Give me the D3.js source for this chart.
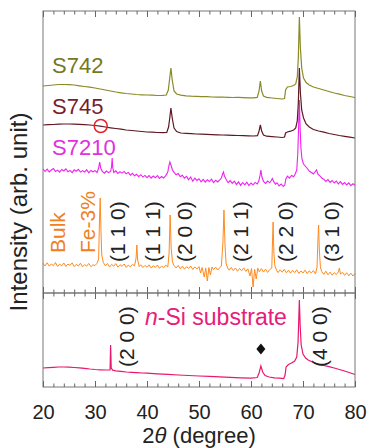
<!DOCTYPE html>
<html>
<head>
<meta charset="utf-8">
<script src="https://cdn.jsdelivr.net/npm/d3@7"></script>
<style>
  body { margin: 0; background: #fff; }
  svg { display: block; }
  text { font-family: Arial, "Liberation Sans", sans-serif; }
</style>
</head>
<body>
<div id="chart"></div>
<script>
const width = 367, height = 448;

// 2theta (degree) vs intensity (arb. unit), offsets included
const s742 = [[20,207],[21,207.5],[22,208],[23,208.5],[24,208.5],[25,208.3],[26,208],[27,207.2],[28,206.5],[29,205.8],[30,205],[31,204],[32,203],[33,202],[34,201],[35,200.2],[36,199.5],[37,199],[38,198.5],[39,198.2],[40,198],[41,197.8],[42,197.5],[43,197.6],[43.7,198],[44.1,203],[44.35,214],[44.6,225],[44.85,213],[45.2,202],[45.7,199],[46.5,197.8],[47.5,197.2],[48.5,196.8],[49.5,196.6],[50.5,196.4],[51.5,196.3],[52.5,196],[53.5,195.9],[54.5,196],[55.5,195.7],[56.5,195.5],[57.5,195.6],[58.5,195.4],[59.5,195.2],[60.5,195.1],[61.2,195.6],[61.55,202],[61.8,212],[62.05,202],[62.4,197],[63,195.6],[64,195],[65,194.5],[66,194],[66.45,194.5],[66.65,203],[67,206],[67.6,206.5],[68.2,207.5],[68.6,209],[68.9,216],[69.1,235],[69.3,276],[69.5,245],[69.75,225],[70.1,215],[70.6,210.5],[71.2,208],[72,206],[73,204.5],[74,203],[75,201.5],[76,200],[77,198.8],[78,197.5],[79,196.5],[80,195.5]];

const s745 = [[20,168],[21,168.3],[22,168.5],[23,168.8],[24,169],[25,169],[26,168.9],[27,168.6],[28,168.4],[29,168],[30,167.5],[31,166.8],[32,166],[33,165.2],[34,164.5],[35,163.8],[36,163],[37,162.5],[38,162],[39,161.5],[40,161],[41,160.8],[42,160.5],[43,160.4],[43.8,160.6],[44.15,166],[44.4,176],[44.6,185],[44.85,175],[45.2,165],[45.7,161.5],[46.5,160],[47.5,159.6],[48.5,159.3],[49.5,159],[50.5,158.8],[51.5,158.6],[52.5,158.4],[53.5,158.2],[54.5,158],[55.5,157.8],[56.5,157.7],[57.5,157.5],[58.5,157.3],[59.5,157.1],[60.5,157],[61.25,157.3],[61.55,162],[61.8,168],[62.05,162],[62.4,158],[63,156.8],[64,156.4],[65,156],[66,155.5],[66.45,156],[66.65,160],[67,161],[67.6,161.8],[68.2,163],[68.6,165],[68.9,172],[69.1,190],[69.3,225],[69.5,200],[69.75,183],[70.1,175],[70.6,169],[71.2,166],[72,163.5],[73,162],[74,160.8],[75,159.5],[76,158.5],[77,157.5],[78,156.7],[79,155.8],[80,155]];

const s7210 = [[20,124],[20.4,121.5],[20.8,123.8],[21.2,121],[21.6,123],[22,124.5],[22.4,121.6],[22.8,122.9],[23.2,120.8],[23.6,123.5],[24,122],[24.4,124.2],[24.8,121.3],[25.2,122.6],[25.6,120.4],[26,123.2],[26.4,121.8],[26.8,123.6],[27.2,120.9],[27.6,122.4],[28,121],[28.4,123.3],[28.8,120.2],[29.2,122.5],[29.6,121.2],[30,122.4],[30.4,120.5],[30.7,125],[30.9,131],[31.1,125],[31.4,121.5],[31.8,119.8],[32.2,122],[32.6,120.4],[33,121.5],[33.2,127],[33.3,135],[33.4,126],[33.6,120.6],[34,122.2],[34.4,119.6],[34.8,121.4],[35.2,119.9],[35.6,121.6],[36,119.2],[36.4,120.6],[36.8,117.8],[37.2,119.6],[37.6,117.2],[38,118.8],[38.4,116.4],[38.8,118.3],[39.2,115.9],[39.6,117.6],[40,115.4],[40.4,117.5],[40.8,114.8],[41.2,116.9],[41.6,115.2],[42,117.3],[42.4,114.6],[42.8,116.5],[43.2,115],[43.6,117.4],[44,121],[44.2,127],[44.4,131],[44.6,128],[44.9,123],[45.2,120.6],[45.6,118.2],[46,119.4],[46.4,116.3],[46.8,117.8],[47.2,114.9],[47.6,116.6],[48,113.2],[48.4,116],[48.8,111.8],[49.2,114.9],[49.6,112.6],[50,114.3],[50.4,111.2],[50.8,113.6],[51.2,110.8],[51.6,113.2],[52,111.5],[52.4,113.8],[52.8,110.4],[53.2,112.7],[53.6,111],[54,113.2],[54.3,115],[54.55,119],[54.7,121],[54.9,117],[55.2,113.8],[55.6,110.3],[56,112.4],[56.4,109.6],[56.8,111.8],[57.2,108.4],[57.6,111.2],[58,107.6],[58.4,110.5],[58.8,108.2],[59.2,110.8],[59.6,107.4],[60,110],[60.4,108.2],[60.8,110.6],[61.2,109],[61.5,112],[61.75,118],[61.9,123],[62.1,116],[62.4,111.5],[62.8,109.6],[63.2,112],[63.6,110.2],[63.9,112.5],[64.1,114.5],[64.35,111.6],[64.7,108.8],[65,110.2],[65.4,107],[65.8,109],[66.2,106.5],[66.5,108],[66.7,114],[67,116.8],[67.4,114.9],[67.8,117.5],[68.2,116.2],[68.5,119],[68.8,123],[69,140],[69.15,165],[69.3,193],[69.45,165],[69.6,145],[69.8,134],[70.1,129],[70.5,126.5],[70.9,124],[71.3,121.5],[71.7,120.2],[72,119],[72.3,121],[72.6,123],[72.9,118.6],[73.2,117.4],[73.6,115],[74,113.8],[74.4,111.6],[74.8,113.4],[75.2,110.6],[75.6,112.5],[76,110],[76.4,112],[76.8,109.2],[77.2,111.3],[77.6,108.6],[78,110.4],[78.4,108],[78.8,110.1],[79.2,107.4],[79.6,109.2],[80,107.8]];

const bulkFe = [[20,29.5],[20.4,27],[20.8,30.2],[21.2,26.8],[21.6,29],[22,27.4],[22.4,30.5],[22.8,26.5],[23.2,28.8],[23.6,27.2],[24,30],[24.4,26.6],[24.8,28.9],[25.2,27.6],[25.6,30.1],[26,26.4],[26.4,28.6],[26.8,27],[27.2,29.8],[27.6,26.2],[28,28.4],[28.4,26.9],[28.8,29.6],[29.2,26.3],[29.6,28.2],[30,27.5],[30.4,29.8],[30.7,34],[30.85,70],[31,95],[31.15,62],[31.3,38],[31.6,30.5],[32,27.2],[32.4,29.5],[32.8,26],[33.2,28.6],[33.6,26.8],[34,29.4],[34.4,25.9],[34.8,28.3],[35.2,26.6],[35.6,29],[36,25.6],[36.4,27.9],[36.8,26.2],[37.2,28.7],[37.6,27],[37.9,35],[38.05,48],[38.2,33],[38.5,26.4],[38.8,28.2],[39.2,25.4],[39.6,27.6],[40,25.8],[40.4,28.1],[40.8,24.9],[41.2,27.3],[41.6,25.5],[42,28],[42.4,24.6],[42.8,26.9],[43.2,25.3],[43.6,27.8],[44,26],[44.25,40],[44.45,78],[44.65,45],[44.9,31],[45.2,27.4],[45.6,25],[46,27.6],[46.4,24.2],[46.8,26.8],[47.2,23.8],[47.6,26.3],[48,24.6],[48.4,27],[48.8,23.5],[49.2,26.1],[49.6,24],[50,26.4],[50.3,20],[50.6,25.5],[51,16],[51.3,24.8],[51.6,12],[51.9,25.4],[52.2,18],[52.5,26],[52.8,23.4],[53.2,25.9],[53.6,23],[54,25.4],[54.3,27],[54.6,50],[54.8,83],[55,48],[55.2,30],[55.5,25],[55.8,22.8],[56.2,25.6],[56.6,22.4],[57,25],[57.4,21.8],[57.8,24.6],[58.2,22.2],[58.6,25.1],[59,21.6],[59.4,24.2],[59.8,17],[60.1,24.5],[60.4,6],[60.7,23.6],[61,14],[61.3,24.8],[61.6,21.2],[62,24.4],[62.4,21],[62.8,23.8],[63.2,20.6],[63.6,23.4],[64,25],[64.1,45],[64.25,71],[64.4,40],[64.6,27],[64.9,23],[65.2,20.4],[65.6,23.2],[66,20.8],[66.4,23.7],[66.8,20.2],[67.2,22.8],[67.6,19.8],[68,22.6],[68.4,20.4],[68.8,23.2],[69.2,19.6],[69.6,22.1],[70,20],[70.4,22.9],[70.8,19.4],[71.2,22.2],[71.6,19.9],[72,22.5],[72.4,19.2],[72.7,26],[72.85,50],[73,68],[73.15,42],[73.35,26],[73.6,21.5],[74,18.6],[74.4,21.8],[74.8,18.2],[75.2,20.9],[75.6,17.8],[76,20.4],[76.4,18.4],[76.8,21.2],[77,25],[77.2,19],[77.6,20.6],[78,17.6],[78.4,20.2],[78.8,17.2],[79.2,19.8],[79.6,17],[80,19.5]];

const nSi = [[20,19],[21,19.3],[22,19.6],[23,20],[24,20],[25,19.8],[26,19.5],[27,19.2],[28,18.7],[29,18],[30,17.5],[31,17.2],[32,17],[32.9,17],[33,42],[33.12,19],[33.4,16.8],[34,16.2],[35,15.6],[36,15],[37,14.6],[38,14.3],[39,14],[40,13.8],[42,13.2],[44,12.6],[46,12],[48,11.5],[50,11],[52,10.6],[54,10.1],[56,9.7],[58,9.2],[60,8.8],[61.2,9.5],[61.55,14],[61.9,21],[62.25,15],[62.7,11.5],[63.5,10],[64.5,9.2],[65.5,8.8],[66.3,8.5],[66.55,12],[66.75,20],[67.2,22.5],[67.8,24],[68.4,26],[68.8,30],[69.05,45],[69.2,70],[69.3,87],[69.45,62],[69.65,42],[70,33],[70.5,29],[71,27],[72,24.5],[73,23],[74,21.5],[75,20.3],[76,19],[77,17.5],[78,16],[79,14.3],[80,12.5]];

const xTicks = [20, 30, 40, 50, 60, 70, 80];
const xMinor = [22,24,26,28,32,34,36,38,42,44,46,48,52,54,56,58,62,64,66,68,72,74,76,78];

// hkl labels: [text, 2theta of label centre]
const bulkLabels = [["(1 1 0)", 34.4], ["(1 1 1)", 41.0], ["(2 0 0)", 47.2], ["(2 1 1)", 58.0], ["(2 2 0)", 66.7], ["(3 1 0)", 75.4]];
const siLabels = [["(2 0 0)", 36.1], ["(4 0 0)", 73.2]];

const svg = d3.select("#chart").append("svg")
    .attr("width", width)
    .attr("height", height);

const x = d3.scaleLinear().domain([20, 80]).range([43, 355]);
const yTop = d3.scaleLinear().domain([0, 282]).range([293, 11]);
const yBot = d3.scaleLinear().domain([0, 94]).range([387, 293]);

const lineTop = d3.line().x(d => x(d[0])).y(d => yTop(d[1]));
const lineBot = d3.line().x(d => x(d[0])).y(d => yBot(d[1]));

function frame(y0, y1, labels) {
    svg.append("rect")
        .attr("x", x(20)).attr("y", y0)
        .attr("width", x(80) - x(20)).attr("height", y1 - y0)
        .attr("fill", "none").attr("stroke", "#777").attr("stroke-width", 1);

    const ticks = (axis, y, size, vals, fmt) => svg.append("g")
        .attr("transform", `translate(0,${y})`)
        .call(axis(x).tickValues(vals).tickSize(size).tickFormat(fmt).tickPadding(18))
        .call(g => g.select(".domain").remove())
        .call(g => g.selectAll("line").attr("stroke", "#666"));

    ticks(d3.axisTop, y0, -6, xTicks, "");
    ticks(d3.axisTop, y0, -3.5, xMinor, "");
    const b = ticks(d3.axisBottom, y1, -6, xTicks, labels ? d3.format("d") : "");
    ticks(d3.axisBottom, y1, -3.5, xMinor, "");
    b.selectAll("text").attr("font-size", 20).attr("fill", "#222")
        .attr("font-family", "Arial, 'Liberation Sans', sans-serif");
}

// traces
svg.append("path").datum(bulkFe).attr("d", lineTop)
    .attr("fill", "none").attr("stroke", "#ff8a1e").attr("stroke-width", 1);
svg.append("path").datum(s7210).attr("d", lineTop)
    .attr("fill", "none").attr("stroke", "#f020f0").attr("stroke-width", 1.1);
svg.append("path").datum(s745).attr("d", lineTop)
    .attr("fill", "none").attr("stroke", "#5e1822").attr("stroke-width", 1.2);
svg.append("path").datum(s742).attr("d", lineTop)
    .attr("fill", "none").attr("stroke", "#8a8a26").attr("stroke-width", 1.2);
svg.append("path").datum(nSi).attr("d", lineBot)
    .attr("fill", "none").attr("stroke", "#e8186e").attr("stroke-width", 1.2);

frame(11, 293, false);
frame(293, 387, true);

// sample names
const names = [["S742", "#74781e", 73], ["S745", "#7a1c2c", 114], ["S7210", "#e030e0", 155]];
svg.selectAll(".name").data(names).join("text")
    .attr("x", 52).attr("y", d => d[2])
    .attr("font-size", 22).attr("fill", d => d[1])
    .text(d => d[0]);

// open circle on S745 near 31 deg
svg.append("circle")
    .attr("cx", x(31.1)).attr("cy", yTop(167))
    .attr("r", 6.5).attr("fill", "none")
    .attr("stroke", "#e8222a").attr("stroke-width", 1.5);

// rotated labels
function vlabel(text, cx, yStart, color, size) {
    svg.append("text")
        .attr("transform", `translate(${cx},${yStart}) rotate(-90)`)
        .attr("dy", "0.36em")
        .attr("font-size", size).attr("fill", color)
        .text(text);
}
vlabel("Bulk", 57, 253, "#f08020", 21);
vlabel("Fe-3%", 87, 253, "#f08020", 21);
bulkLabels.forEach(d => vlabel(d[0], x(d[1]), 262, "#222", 21));
siLabels.forEach(d => vlabel(d[0], x(d[1]), 367, "#222", 21));

svg.append("text")
    .attr("x", 145).attr("y", 325)
    .attr("font-size", 23).attr("fill", "#e6207a")
    .call(t => t.append("tspan").attr("font-style", "italic").text("n"))
    .call(t => t.append("tspan").text("-Si substrate"));

// diamond marker over the 61.9 deg peak
svg.append("path")
    .attr("transform", `translate(${x(61.9)},${yBot(38)})`)
    .attr("d", "M0,-5.5L4.5,0L0,5.5L-4.5,0Z")
    .attr("fill", "#111");

// axis titles
svg.append("text")
    .attr("transform", `translate(18,212) rotate(-90)`)
    .attr("text-anchor", "middle").attr("dy", "0.36em")
    .attr("font-size", 24).attr("fill", "#222")
    .text("Intensity (arb. unit)");

svg.append("text")
    .attr("x", x(50)).attr("y", 443)
    .attr("text-anchor", "middle")
    .attr("font-size", 22).attr("fill", "#222")
    .call(t => t.append("tspan").text("2"))
    .call(t => t.append("tspan").attr("font-style", "italic").text("\u03b8"))
    .call(t => t.append("tspan").text(" (degree)"));
</script>
</body>
</html>
